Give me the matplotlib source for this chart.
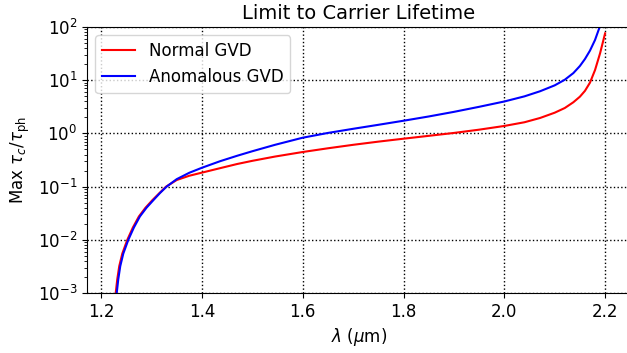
"""Limit to carrier lifetime vs wavelength for normal and anomalous GVD."""
import matplotlib
matplotlib.use('Agg')
import matplotlib.pyplot as plt
import numpy as np
from matplotlib.ticker import LogLocator, NullFormatter

# wavelength (um) and max tau_c / tau_ph, normal GVD
lam_normal = [1.229, 1.232, 1.236, 1.242, 1.252, 1.263, 1.275, 1.288, 1.302,
              1.316, 1.329, 1.35, 1.375, 1.40, 1.436, 1.47, 1.50, 1.545,
              1.60, 1.65, 1.70, 1.75, 1.80, 1.85, 1.90, 1.95, 2.00, 2.04,
              2.071, 2.10, 2.12, 2.137, 2.15, 2.16, 2.17, 2.18, 2.19, 2.20]
ratio_normal = [1e-3, 1.8e-3, 3.2e-3, 5.5e-3, 1e-2, 0.017, 0.0275, 0.040,
                0.056, 0.076, 0.1, 0.133, 0.160, 0.183, 0.222, 0.266, 0.305,
                0.367, 0.447, 0.525, 0.61, 0.70, 0.795, 0.90, 1.02, 1.175,
                1.38, 1.62, 1.95, 2.45, 3.0, 3.85, 4.9, 6.3, 9.0, 15.5,
                32.0, 76.0]

# wavelength (um) and max tau_c / tau_ph, anomalous GVD
lam_anom = [1.231, 1.234, 1.238, 1.244, 1.254, 1.265, 1.277, 1.29, 1.304,
            1.317, 1.33, 1.35, 1.375, 1.40, 1.436, 1.47, 1.50, 1.545,
            1.60, 1.65, 1.70, 1.75, 1.80, 1.85, 1.90, 1.95, 2.00, 2.04,
            2.071, 2.10, 2.12, 2.137, 2.15, 2.16, 2.17, 2.18, 2.19]
ratio_anom = [1e-3, 1.8e-3, 3.2e-3, 5.5e-3, 1e-2, 0.017, 0.0275, 0.040,
              0.056, 0.076, 0.1, 0.138, 0.182, 0.226, 0.30, 0.38, 0.462,
              0.61, 0.83, 1.02, 1.22, 1.45, 1.73, 2.08, 2.54, 3.16, 3.98,
              4.97, 6.2, 8.0, 10.2, 13.6, 18.5, 25.0, 36.0, 57.0, 105.0]

x_ticks = [1.2, 1.4, 1.6, 1.8, 2.0, 2.2]

fig = plt.figure(figsize=(6.27, 3.53), dpi=100)
# axes run past the right edge of the canvas
ax = fig.add_axes([87 / 627, 60 / 353, 543.3 / 627, 266 / 353])

ax.plot(lam_normal, ratio_normal, color='r', linewidth=1.5, label='Normal GVD')
ax.plot(lam_anom, ratio_anom, color='b', linewidth=1.5, label='Anomalous GVD')

ax.set_yscale('log')
ax.set_ylim(1e-3, 1e2)
ax.yaxis.set_minor_locator(LogLocator(base=10, subs=np.arange(2, 10), numticks=100))
ax.yaxis.set_minor_formatter(NullFormatter())
ax.set_xlim(1.172, 2.25)
ax.set_xticks(x_ticks)
ax.set_xticklabels([f'{t:.1f}' for t in x_ticks])
ax.tick_params(labelsize=12)
ax.tick_params(axis='y', which='minor', length=2.5)

ax.grid(True, which='major', color='k', linestyle=':', linewidth=1)
ax.set_xlabel(r'$\lambda$ ($\mu$m)', fontsize=12)
ax.set_ylabel(r'Max $\tau_c/\tau_{\rm ph}$', fontsize=12)
ax.set_title('Limit to Carrier Lifetime', fontsize=14)
ax.legend(loc='upper left', fontsize=12)

fig.savefig('out.png', dpi=100)
